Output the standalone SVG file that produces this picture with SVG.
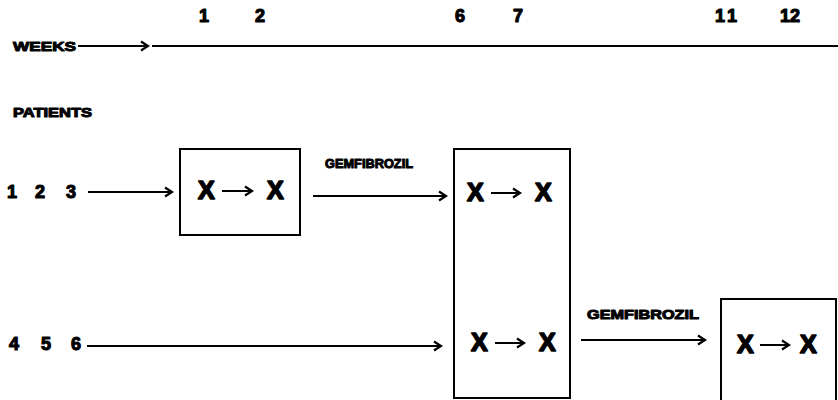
<svg xmlns="http://www.w3.org/2000/svg" width="838" height="400" viewBox="0 0 838 400">
  <style>
    text { font-family: "Liberation Sans", Arial, sans-serif; font-weight: bold; fill: #000; stroke: #000; stroke-linejoin: round; }
    .lbl { font-size: 13px; stroke-width: 1; }
    .num { font-size: 18px; stroke-width: 1.1; }
    .xx { font-size: 25px; stroke-width: 1.6; }
    .box { fill: none; stroke: #000; stroke-width: 2; }
    .line { fill: none; stroke: #000; stroke-width: 2; }
    .mini { fill: none; stroke: #000; stroke-width: 2.2; }
  </style>
  <defs>
    <marker id="head" markerUnits="userSpaceOnUse" markerWidth="12" markerHeight="12" refX="9" refY="6" orient="auto">
      <path d="M2,1.5 L9,6 L2,10.5" fill="none" stroke="#000" stroke-width="2.2"/>
    </marker>
  </defs>

  <!-- time axis -->
  <g id="weeks">
    <text class="lbl" x="13" y="51" textLength="63" lengthAdjust="spacingAndGlyphs">WEEKS</text>
    <text class="num" x="199" y="22">1</text>
    <text class="num" x="255" y="22">2</text>
    <text class="num" x="455" y="22">6</text>
    <text class="num" x="513" y="22">7</text>
    <text class="num" x="715" y="22" textLength="22" lengthAdjust="spacing">11</text>
    <text class="num" x="780" y="22">12</text>
  </g>
  <g id="patients">
    <text class="lbl" x="13" y="117" textLength="79" lengthAdjust="spacingAndGlyphs">PATIENTS</text>
  </g>
  <g id="group-123">
    <text class="num" x="7" y="198"><tspan x="7">1</tspan><tspan x="35">2</tspan><tspan x="66">3</tspan></text>
  </g>
  <g id="group-456">
    <text class="num" x="9" y="350"><tspan x="9">4</tspan><tspan x="41">5</tspan><tspan x="71">6</tspan></text>
  </g>

  <!-- assessment blocks: X -> X -->
  <g id="block-1">
    <rect class="box" x="180" y="149" width="120" height="86"/>
    <text class="xx" x="198" y="199">X</text>
    <path class="mini" d="M222,191 H252 M245,186.5 L252,191 L245,195.5"/>
    <text class="xx" x="267" y="199">X</text>
  </g>
  <g id="block-2">
    <rect class="box" x="454" y="149" width="116" height="249"/>
    <text class="xx" x="467" y="201">X</text>
    <path class="mini" d="M491,193 H520 M513,188.5 L520,193 L513,197.5"/>
    <text class="xx" x="535" y="201">X</text>
    <text class="xx" x="471" y="351">X</text>
    <path class="mini" d="M495,343 H524 M517,338.5 L524,343 L517,347.5"/>
    <text class="xx" x="539" y="351">X</text>
  </g>
  <g id="block-3">
    <rect class="box" x="721" y="299" width="115" height="110"/>
    <text class="xx" x="737" y="353">X</text>
    <path class="mini" d="M760,345 H789 M782,340.5 L789,345 L782,349.5"/>
    <text class="xx" x="800" y="353">X</text>
  </g>
  <g id="drug-labels">
    <text class="lbl" x="325" y="168" textLength="88" lengthAdjust="spacingAndGlyphs">GEMFIBROZIL</text>
    <text class="lbl" x="587" y="319" textLength="112" lengthAdjust="spacingAndGlyphs">GEMFIBROZIL</text>
  </g>

  <!-- connectors -->
  <g id="connectors">
    <line class="line" x1="78" y1="46" x2="148" y2="46" marker-end="url(#head)"/>
    <line class="line" x1="152" y1="46" x2="838" y2="46"/>
    <line class="line" x1="88" y1="192" x2="172" y2="192" marker-end="url(#head)"/>
    <line class="line" x1="313" y1="196" x2="446" y2="196" marker-end="url(#head)"/>
    <line class="line" x1="87" y1="346" x2="441" y2="346" marker-end="url(#head)"/>
    <line class="line" x1="581" y1="340" x2="705" y2="340" marker-end="url(#head)"/>
  </g>
</svg>
